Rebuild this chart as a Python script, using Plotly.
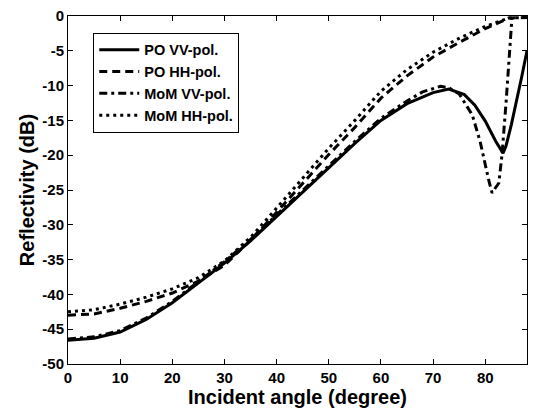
import plotly.graph_objects as go

# Incident angle (degree) and reflectivity (dB) for each method / polarization
po_vv_angle = [0, 5, 10, 15, 20, 25, 30, 35, 40, 45, 50, 55, 60, 65, 70, 73, 76, 78, 80, 82, 83.4, 84, 85, 86, 87, 88]
po_vv_db = [-46.6, -46.3, -45.4, -43.6, -41.2, -38.4, -35.5, -32.3, -28.8, -25.2, -21.7, -18.3, -15.0, -12.6, -11.0, -10.5, -11.3, -12.8, -15.1, -18.0, -19.7, -18.6, -15.6, -12.3, -8.7, -5.0]

po_hh_angle = [0, 5, 10, 15, 20, 25, 30, 35, 40, 45, 50, 55, 60, 65, 70, 75, 80, 84.5, 88]
po_hh_db = [-43.0, -42.8, -42.0, -41.0, -39.8, -38.1, -35.8, -32.2, -28.2, -24.0, -19.9, -16.0, -11.8, -8.6, -5.9, -3.8, -1.8, -0.3, -0.2]

mom_vv_angle = [0, 5, 10, 15, 20, 25, 30, 35, 40, 45, 50, 55, 60, 65, 68, 71.4, 73, 75, 77.5, 79, 80.7, 81.3, 82.6, 83.2, 84, 84.8, 85.1]
mom_vv_db = [-46.4, -46.1, -45.2, -43.4, -41.0, -38.2, -35.3, -32.1, -28.6, -25.0, -21.5, -18.0, -14.7, -12.2, -10.9, -10.1, -10.3, -11.2, -14.2, -18.0, -23.7, -25.4, -24.0, -20.0, -12.3, -2.8, -0.4]

mom_hh_angle = [0, 5, 10, 15, 20, 25, 30, 35, 40, 45, 50, 55, 60, 65, 70, 75, 80, 84.5, 88]
mom_hh_db = [-42.5, -42.2, -41.4, -40.4, -39.2, -37.6, -35.2, -31.8, -27.6, -23.3, -19.0, -15.0, -10.8, -7.7, -5.2, -3.2, -1.5, -0.3, -0.2]

x_ticks = [0, 10, 20, 30, 40, 50, 60, 70, 80]
y_ticks = [0, -5, -10, -15, -20, -25, -30, -35, -40, -45, -50]

FONT = "Liberation Sans, Arial, sans-serif"

fig = go.Figure()
fig.add_trace(go.Scatter(x=po_vv_angle, y=po_vv_db, mode="lines", name="PO VV-pol.",
                         line=dict(color="black", width=3, dash="solid")))
fig.add_trace(go.Scatter(x=po_hh_angle, y=po_hh_db, mode="lines", name="PO HH-pol.",
                         line=dict(color="black", width=3, dash="8px,5px")))
fig.add_trace(go.Scatter(x=mom_vv_angle, y=mom_vv_db, mode="lines", name="MoM VV-pol.",
                         line=dict(color="black", width=3, dash="8px,4px,3px,4px")))
fig.add_trace(go.Scatter(x=mom_hh_angle, y=mom_hh_db, mode="lines", name="MoM HH-pol.",
                         line=dict(color="black", width=3, dash="3px,4px")))

axis_common = dict(
    showgrid=False, zeroline=False, showline=True, linecolor="black", linewidth=1,
    mirror="ticks", ticks="inside", ticklen=5, tickcolor="black",
    tickfont=dict(family=FONT, size=15, color="black", weight="bold"),
)

fig.update_xaxes(range=[0, 88], tickvals=x_ticks, ticktext=[str(v) for v in x_ticks],
                 title=dict(text="Incident angle (degree)", standoff=0,
                            font=dict(family=FONT, size=20, color="black", weight="bold")),
                 **axis_common)
fig.update_yaxes(range=[-50, 0], tickvals=y_ticks, ticktext=[str(v) for v in y_ticks],
                 title=dict(text="Reflectivity (dB)", standoff=2,
                            font=dict(family=FONT, size=20, color="black", weight="bold")),
                 **axis_common)

fig.update_layout(
    width=535, height=409,
    margin=dict(l=68, r=7, t=14, b=45),
    paper_bgcolor="white", plot_bgcolor="white",
    showlegend=True,
    legend=dict(x=0.055, y=0.952, xanchor="left", yanchor="top",
                bgcolor="white", bordercolor="black", borderwidth=1,
                font=dict(family=FONT, size=14.5, color="black", weight="bold"),
                tracegroupgap=0, itemwidth=40),
)

fig.write_html("out.html")
